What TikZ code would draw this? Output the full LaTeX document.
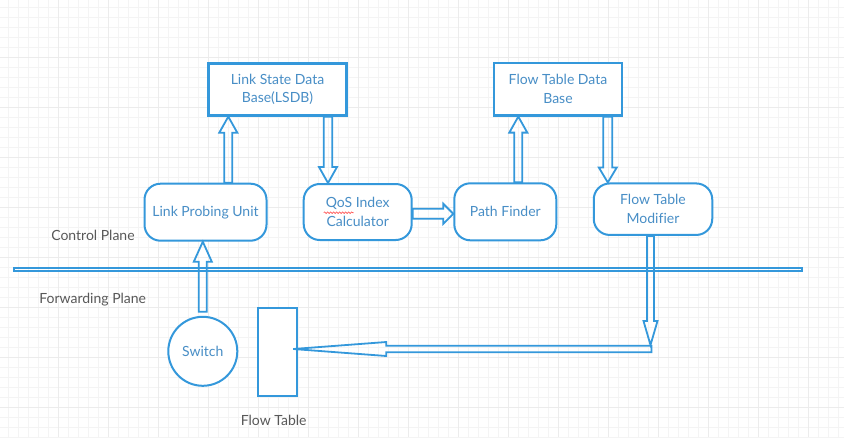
\documentclass[tikz,border=0pt]{standalone}
\usepackage{fontspec}
\setmainfont{Lato}[Ligatures=NoCommon]
\usetikzlibrary{calc,decorations.pathmorphing}
\definecolor{linkblue}{RGB}{52,152,219}
\definecolor{labelblue}{RGB}{72,142,198}
\definecolor{planegray}{RGB}{88,88,88}
\definecolor{gridgray}{RGB}{244,244,244}
\definecolor{gridmajor}{RGB}{236,236,236}
\tikzset{
	unitbox/.style={draw=linkblue, line width=2pt, fill=white, rounded corners=16pt, text=labelblue, align=center, inner sep=0pt},
	storebox/.style={draw=linkblue, line width=2.3pt, fill=white, text=labelblue, align=center, inner sep=0pt},
	arrowline/.style={draw=linkblue, line width=1.8pt},
	planelabel/.style={text=planegray},
}
% hollow block arrow: start, end, shaft half width, head half width, head length
\newcommand{\hollowarrow}[5]{%
	\draw[arrowline] let \p1=(#1), \p2=(#2),
		\n1={atan2(\y2-\y1,\x2-\x1)}, \n2={veclen(\x2-\x1,\y2-\y1)} in
		[shift={(\p1)}, rotate=\n1]
		(0,-#3) -- (\n2-#5,-#3) -- (\n2-#5,-#4) -- (\n2,0) -- (\n2-#5,#4) -- (\n2-#5,#3) -- (0,#3) -- cycle;}
\begin{document}
\begin{tikzpicture}[x=1pt,y=-1pt,font=\fontsize{14}{18.7}\selectfont]
	\useasboundingbox (0,0) rectangle (844,437);
	\fill[white] (0,0) rectangle (844,437);
	% grid
	\foreach \x in {8,18,...,838} \draw[gridgray, line width=0.7pt] (\x,0) -- (\x,437);
	\foreach \y in {7,17,...,437} \draw[gridgray, line width=0.7pt] (0,\y) -- (844,\y);
	\foreach \x in {58,108,...,808} \draw[gridmajor, line width=0.7pt] (\x,0) -- (\x,437);
	\foreach \y in {57,107,...,407} \draw[gridmajor, line width=0.7pt] (0,\y) -- (844,\y);

	% control plane
	\node[storebox, minimum width=138, minimum height=52] (lsdb) at (277.5,89.5) {Link State Data\\Base(LSDB)};
	\node[storebox, minimum width=128, minimum height=52.5] (ftdb) at (558,89.2) {Flow Table Data\\Base};
	\node[unitbox, minimum width=122, minimum height=57] (lpu) at (205.5,212.2) {Link Probing Unit};
	\node[unitbox, minimum width=108, minimum height=56] (qos) at (357.7,212) {QoS Index\\Calculator};
	\node[unitbox, minimum width=102, minimum height=57] (pf) at (505.3,211.8) {Path Finder};
	\node[unitbox, minimum width=118.5, minimum height=51.5] (ftm) at (653,209.2) {Flow Table\\Modifier};
	\draw[red!70!white, line width=0.6pt, decorate, decoration={snake, amplitude=0.8pt, segment length=3pt}]
		([xshift=-34pt,yshift=-0.7pt]qos.center) -- ([xshift=-4pt,yshift=-0.7pt]qos.center);

	% plane separator
	\draw[arrowline] (14,267.7) rectangle (802.3,271);
	\node[planelabel] (ctrl) at (93,235) {Control Plane};
	\node[planelabel] (fwd) at (92.7,300) {Forwarding Plane};

	% forwarding plane
	\node[draw=linkblue, line width=2pt, fill=white, circle, minimum size=69, inner sep=0pt, text=labelblue] (sw) at (202.8,351.3) {Switch};
	\node[draw=linkblue, line width=2pt, fill=white, minimum width=39, minimum height=88, inner sep=0pt] (ft) at (277.8,351.7) {};
	\node[planelabel] (ftlabel) at (273.7,420) {Flow Table};
	\coordinate (turn) at (650.5,345);

	% arrows
	\hollowarrow{[xshift=22.8pt]lpu.north}{[xshift=22.8pt]lpu.north |- lsdb.south}{4}{9}{16}
	\hollowarrow{[xshift=50.5pt]lsdb.south}{[xshift=50.5pt]lsdb.south |- qos.north}{4.3}{9}{16}
	\hollowarrow{[yshift=-1.8pt]qos.east}{[yshift=-1.8pt]qos.east -| pf.west}{5}{10}{10}
	\hollowarrow{[xshift=13pt]pf.north}{[xshift=13pt]pf.north |- ftdb.south}{4}{9}{16}
	\hollowarrow{[xshift=49.8pt]ftdb.south}{[xshift=49.8pt]ftdb.south |- ftm.north}{4.5}{9}{15}
	\hollowarrow{[xshift=-2.5pt]ftm.south}{turn}{3.5}{7}{24}
	\hollowarrow{[xshift=1pt,yshift=-4pt]turn}{[xshift=-5pt,yshift=2.7pt]ft.east}{3.2}{7}{93}
	\hollowarrow{[yshift=4pt]sw.north}{sw.north |- lpu.south}{4}{9}{20}
\end{tikzpicture}
\end{document}
